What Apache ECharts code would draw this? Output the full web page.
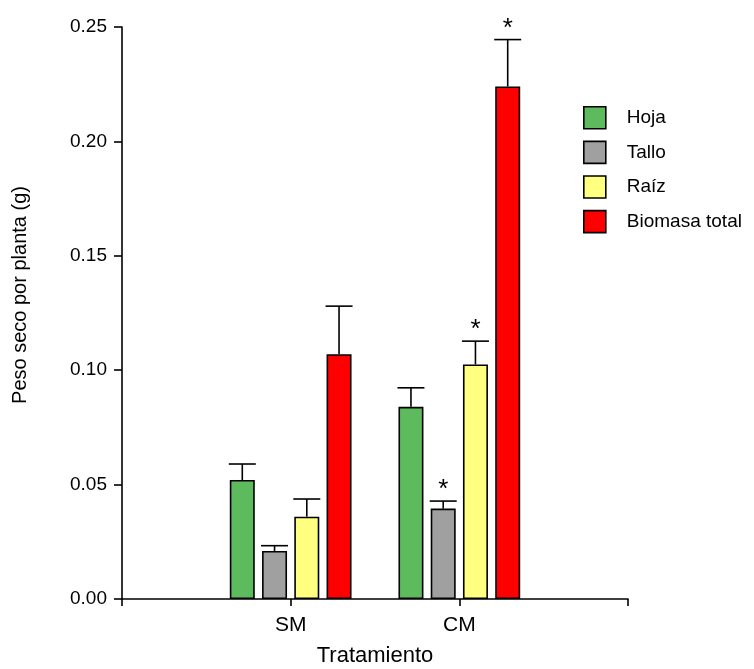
<!DOCTYPE html>
<html>
<head>
<meta charset="utf-8">
<script src="https://cdn.jsdelivr.net/npm/echarts@6/dist/echarts.min.js"></script>
<style>
  html, body { margin: 0; padding: 0; background: #fff; }
  #chart { width: 754px; height: 669px; }
</style>
</head>
<body>
<div id="chart"></div>
<script>
// Treatments (padded with empty slots so the axis spans 0..3)
const categories = ['', 'SM', 'CM', ''];
const treatments = ['SM', 'CM'];

// Mean dry weight per plant (g) and SEM, per tissue, for SM and CM
const seriesNames = ['Hoja', 'Tallo', 'Raíz', 'Biomasa total'];
const hoja = [0.052, 0.084];
const hojaErr = [0.007, 0.0083];
const tallo = [0.021, 0.0395];
const talloErr = [0.0023, 0.0033];
const raiz = [0.036, 0.1025];
const raizErr = [0.0077, 0.0102];
const biomasa = [0.107, 0.224];
const biomasaErr = [0.021, 0.0205];

// Significance marks (true = asterisk above the bar)
const hojaSig = [false, false];
const talloSig = [false, true];
const raizSig = [false, true];
const biomasaSig = [false, true];

// Y axis ticks
const yTicks = [0, 0.05, 0.10, 0.15, 0.20, 0.25];

const colors = ['#5DBB5D', '#A0A0A0', '#FFFF80', '#FF0000'];
const means = [hoja, tallo, raiz, biomasa];
const errs = [hojaErr, talloErr, raizErr, biomasaErr];
const sigs = [hojaSig, talloSig, raizSig, biomasaSig];

const FONT = '"Liberation Sans", Arial, sans-serif';
const BAR_W = 25;
const BAR_GAP = 0.29;
const STEP = BAR_W * (1 + BAR_GAP);
const CAP_W = 27;

function catIndex(t) { return categories.indexOf(t); }

function barData(vals) {
  return categories.map(c => {
    const i = treatments.indexOf(c);
    return i >= 0 ? vals[i] : '-';
  });
}

const series = [];
seriesNames.forEach((name, s) => {
  series.push({
    name: name,
    type: 'bar',
    barWidth: BAR_W,
    barGap: (BAR_GAP * 100) + '%',
    data: barData(means[s]),
    itemStyle: { color: colors[s], borderColor: '#000', borderWidth: 1.6 },
    emphasis: { disabled: true },
    z: 2
  });
});

// Upper error bars and asterisks, offset to sit on each grouped bar
seriesNames.forEach((name, s) => {
  const offset = (s - 1.5) * STEP;
  series.push({
    type: 'custom',
    name: name + ' err',
    z: 3,
    silent: true,
    data: treatments.map((t, i) => [catIndex(t), means[s][i], errs[s][i], sigs[s][i] ? 1 : 0]),
    renderItem: function (params, api) {
      const x = api.coord([api.value(0), 0])[0] + offset;
      const yTop = api.coord([api.value(0), api.value(1)])[1];
      const yCap = api.coord([api.value(0), api.value(1) + api.value(2)])[1];
      const lineStyle = { stroke: '#000', lineWidth: 1.6 };
      const children = [
        { type: 'line', shape: { x1: x, y1: yTop, x2: x, y2: yCap }, style: lineStyle },
        { type: 'line', shape: { x1: x - CAP_W / 2, y1: yCap, x2: x + CAP_W / 2, y2: yCap }, style: lineStyle }
      ];
      if (api.value(3)) {
        children.push({
          type: 'text',
          style: {
            text: '*', x: x, y: yCap + 2,
            fill: '#000', font: '26px ' + FONT,
            textAlign: 'center', textVerticalAlign: 'bottom'
          }
        });
      }
      return { type: 'group', children: children };
    }
  });
});

const chart = echarts.init(document.getElementById('chart'), null, { renderer: 'canvas' });
chart.setOption({
  animation: false,
  backgroundColor: '#fff',
  grid: { left: 122, right: 126, top: 27, bottom: 70, containLabel: false, outerBoundsMode: 'none' },
  legend: {
    data: seriesNames,
    orient: 'vertical',
    left: 583,
    top: 106,
    padding: 0,
    itemWidth: 22,
    itemHeight: 22,
    itemGap: 11,
    icon: 'rect',
    selectedMode: false,
    itemStyle: { borderColor: '#000', borderWidth: 1.6 },
    textStyle: { fontFamily: FONT, fontSize: 19, color: '#000', padding: [6, 0, 0, 16] }
  },
  xAxis: {
    type: 'category',
    data: categories,
    boundaryGap: false,
    name: 'Tratamiento',
    nameLocation: 'middle',
    nameGap: 46,
    nameTextStyle: { fontFamily: FONT, fontSize: 22, color: '#000' },
    axisLine: { lineStyle: { color: '#000', width: 1.6 } },
    axisTick: { show: true, length: 7, lineStyle: { color: '#000', width: 1.6 }, interval: 0 },
    axisLabel: { fontFamily: FONT, fontSize: 21, color: '#000', margin: 16, interval: 0 },
    splitLine: { show: false }
  },
  yAxis: {
    type: 'value',
    min: yTicks[0],
    max: yTicks[yTicks.length - 1],
    interval: 0.05,
    name: 'Peso seco por planta (g)',
    nameLocation: 'middle',
    nameGap: 92,
    nameTextStyle: { fontFamily: FONT, fontSize: 20, color: '#000', padding: [0, 0, 0, 36] },
    axisLine: { show: true, lineStyle: { color: '#000', width: 1.6 } },
    axisTick: { show: true, length: 8, lineStyle: { color: '#000', width: 1.6 } },
    axisLabel: { fontFamily: FONT, fontSize: 19, color: '#000', margin: 15, formatter: v => v.toFixed(2) },
    splitLine: { show: false }
  },
  series: series
});
</script>
</body>
</html>
